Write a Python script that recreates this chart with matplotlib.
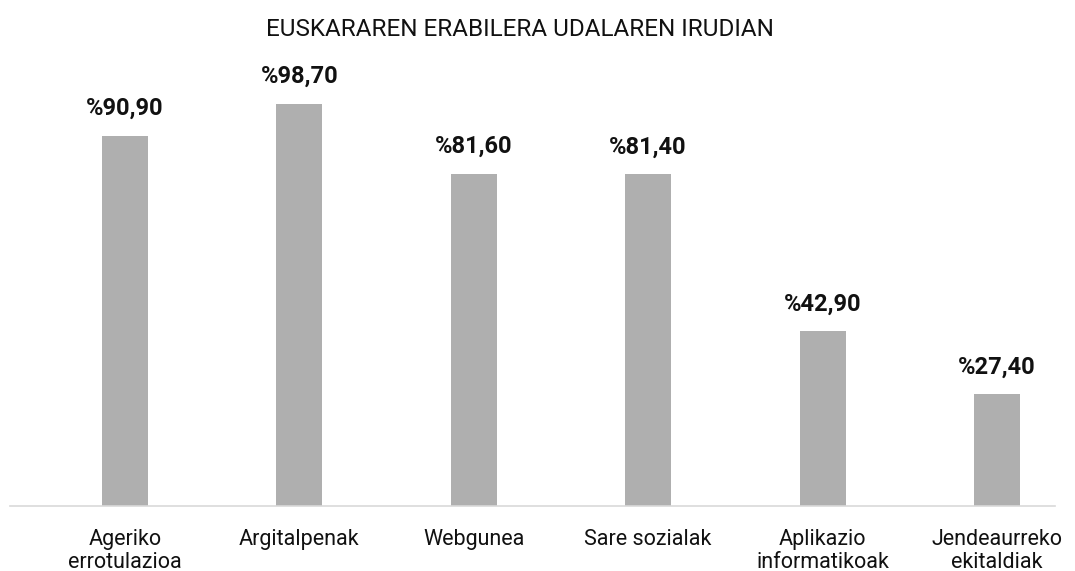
import matplotlib.pyplot as plt

plt.rcParams['font.family'] = ['Roboto', 'DejaVu Sans']

# data
categories = ["Ageriko\nerrotulazioa", "Argitalpenak", "Webgunea",
              "Sare sozialak", "Aplikazio\ninformatikoak", "Jendeaurreko\nekitaldiak"]
values = [90.9, 98.7, 81.6, 81.4, 42.9, 27.4]
value_labels = ["%90,90", "%98,70", "%81,60", "%81,40", "%42,90", "%27,40"]

fig = plt.figure(figsize=(10.75, 5.71), dpi=100)
ax = fig.add_axes([10 / 1075, 65 / 571, 1045 / 1075, 448 / 571])

x = range(len(categories))
ax.bar(x, values, width=0.264, color='#afafaf')

for xi, v, lab in zip(x, values, value_labels):
    ax.annotate(lab, (xi, v), xytext=(0, 15), textcoords='offset points',
                ha='center', va='baseline', fontsize=17, fontweight='bold',
                color='#111111')

# category spacing ~174 px, first bar centre at x=125 px
ax.set_xlim(-0.659, 5.333)
ax.set_ylim(0, 110)
ax.set_yticks([])
ax.set_xticks(list(x))
ax.set_xticklabels(categories, fontsize=15.5, color='#111111', linespacing=1.1)
ax.tick_params(axis='x', length=0, pad=16.5)

for s in ['top', 'right', 'left']:
    ax.spines[s].set_visible(False)
ax.spines['bottom'].set_color('#d9d9d9')
ax.spines['bottom'].set_linewidth(1.2)

fig.text(0.4833, 1 - 30 / 571, "EUSKARAREN ERABILERA UDALAREN IRUDIAN",
         ha='center', va='center', fontsize=17.5, color='#111111')

fig.savefig('out.png', dpi=100)
